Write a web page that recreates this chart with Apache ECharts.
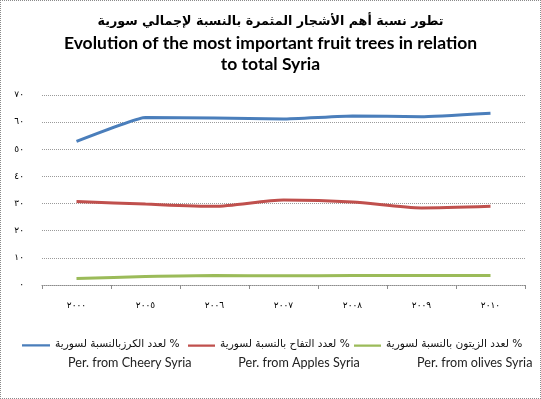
<!DOCTYPE html>
<html>
<head>
<meta charset="utf-8">
<script src="https://cdn.jsdelivr.net/npm/echarts@6/dist/echarts.min.js"></script>
<style>
  html, body { margin: 0; padding: 0; background: #fff; }
  #chart {
    width: 539px;
    height: 397px;
    border: 1px dotted #8a8a8a;
  }
</style>
</head>
<body>
<div id="chart"></div>
<script>
// بيانات المخطط
const categories = ['٢٠٠٠', '٢٠٠٥', '٢٠٠٦', '٢٠٠٧', '٢٠٠٨', '٢٠٠٩', '٢٠١٠'];
const yTickLabels = ['٠', '١٠', '٢٠', '٣٠', '٤٠', '٥٠', '٦٠', '٧٠'];

const cherry = [52.9, 61.7, 61.5, 61.2, 62.3, 62.0, 63.3];
const apples = [30.8, 29.8, 29.0, 31.3, 30.6, 28.4, 29.0];
const olives = [2.4, 3.1, 3.5, 3.4, 3.5, 3.5, 3.5];

const namesAr = [
  'لعدد الكرزبالنسبة لسورية %',
  'لعدد التفاح بالنسبة لسورية %',
  'لعدد الزيتون بالنسبة لسورية %'
];
const namesEn = [
  'Per. from Cheery Syria',
  'Per. from Apples Syria',
  'Per. from olives Syria'
];
const colors = ['#4a7ebb', '#c0504d', '#9bbb59'];

const chart = echarts.init(document.getElementById('chart'));

// legend icon: line at the top of the box, so it sits next to the arabic line
const lineIcon = 'path://M0,0H30V2.6H0Z M0,20H0.01V20.01H0Z';

const makeLegend = (i, left, iconW, pad) => ({
  data: [{ name: namesAr[i], itemStyle: { color: colors[i], borderWidth: 0 } }],
  left: left,
  top: 338,
  padding: 0,
  icon: lineIcon,
  itemWidth: iconW,
  itemHeight: 20,
  itemGap: 0,
  selectedMode: false,
  formatter: () => '{ar|' + namesAr[i] + '}\n{en|' + namesEn[i] + '}',
  textStyle: {
    rich: {
      ar: { fontFamily: 'DejaVu Sans', fontSize: 10.6, color: '#111', lineHeight: 18, align: 'right', padding: [0, pad, 0, 0] },
      en: { fontFamily: 'Lato', fontSize: 12.6, color: '#222', lineHeight: 18, align: 'right' }
    }
  }
});

const option = {
  animation: false,
  title: {
    left: 'center',
    top: 5,
    text: '{ar|تطور نسبة أهم الأشجار المثمرة بالنسبة لإجمالي سورية}\n{en|Evolution of the most important fruit trees in relation}\n{en|to total Syria}',
    textStyle: {
      rich: {
        ar: { fontFamily: 'DejaVu Sans', fontWeight: 'bold', fontSize: 12.7, color: '#000', lineHeight: 21.5, align: 'center' },
        en: { fontFamily: 'Lato', fontWeight: 'bold', fontSize: 17.5, color: '#000', lineHeight: 21.5, align: 'center' }
      }
    }
  },
  legend: [
    makeLegend(0, 21, 28, 12),
    makeLegend(1, 187, 27, 10),
    makeLegend(2, 353, 27, 10)
  ],
  grid: {
    left: 41,
    right: 15,
    top: 94,
    bottom: 113
  },
  xAxis: {
    type: 'category',
    boundaryGap: true,
    data: categories,
    axisLine: { lineStyle: { color: '#8c8c8c', type: 'dotted', width: 1 } },
    axisTick: { show: true, length: 4, lineStyle: { color: '#8c8c8c' } },
    axisLabel: { color: '#000', fontFamily: 'DejaVu Sans', fontSize: 9, margin: 16 }
  },
  yAxis: {
    type: 'value',
    min: 0,
    max: 70,
    interval: 10,
    axisLine: { show: false },
    axisTick: { show: false },
    axisLabel: {
      color: '#000',
      fontFamily: 'DejaVu Sans',
      fontSize: 9,
      margin: 18,
      formatter: v => yTickLabels[Math.round(v / 10)]
    },
    splitLine: { lineStyle: { color: '#9a9a9a', type: 'dotted', width: 1 } }
  },
  series: [
    {
      name: namesAr[0],
      type: 'line',
      data: cherry,
      smooth: 0.1,
      symbol: 'none',
      lineStyle: { color: colors[0], width: 3 },
      itemStyle: { color: colors[0] }
    },
    {
      name: namesAr[1],
      type: 'line',
      data: apples,
      smooth: 0.25,
      symbol: 'none',
      lineStyle: { color: colors[1], width: 3 },
      itemStyle: { color: colors[1] }
    },
    {
      name: namesAr[2],
      type: 'line',
      data: olives,
      smooth: 0.25,
      symbol: 'none',
      lineStyle: { color: colors[2], width: 3 },
      itemStyle: { color: colors[2] }
    }
  ]
};

chart.setOption(option);
</script>
</body>
</html>
